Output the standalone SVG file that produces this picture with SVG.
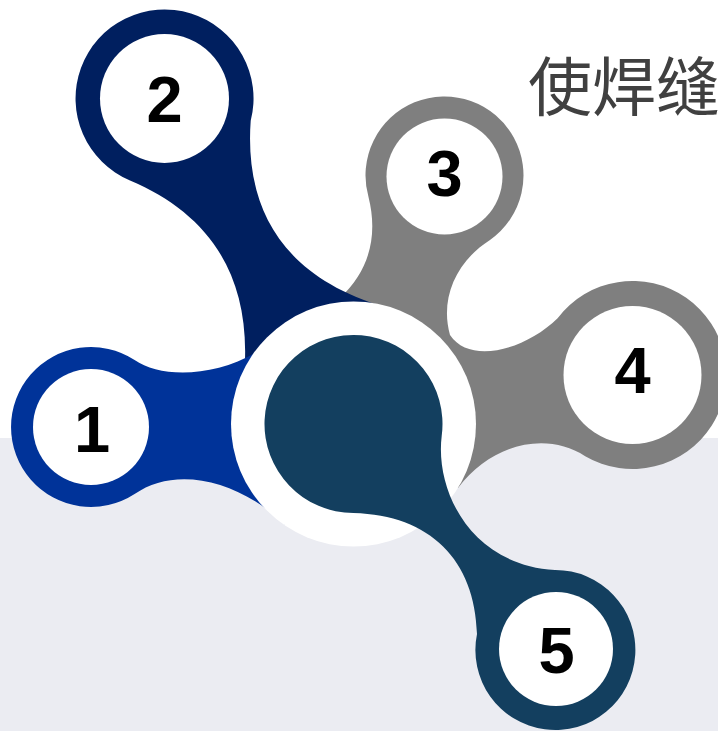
<svg xmlns="http://www.w3.org/2000/svg" width="718" height="731" viewBox="0 0 718 731">
<style>
.hole{fill:#ffffff}
.num{font-family:"Liberation Sans",Arial,sans-serif;font-weight:bold;font-size:65px;fill:#000000;text-anchor:middle}
.title{font-family:"Noto Sans CJK SC","Noto Sans",sans-serif;font-size:64px;fill:#404040}
</style>
<rect x="0" y="0" width="718" height="731" fill="#ffffff"/>
<rect x="0" y="438" width="718" height="293" fill="#ebecf2"/>
<g id="node34">
<path fill="#7f7f7f" d="M368.5,197 C378,235 370,270 340,298 L353,424 L458,488 C490,445 545,430 585.2,456.2 A94,94 0 1 0 557.6,318.2 C525,350 470,365 450,335 C440,300 455,262 490,240 A79,79 0 1 0 368.5,197 Z"/>
<g id="node3"><circle class="hole" cx="444.5" cy="176.5" r="58"/><text class="num" x="444.5" y="196">3</text></g>
<g id="node4"><circle class="hole" cx="632.5" cy="375" r="69"/><text class="num" x="632.5" y="393">4</text></g>
</g>
<g id="node2">
<path fill="#001f5f" d="M250.7,120.8 C245,200 275,275 385,307 L353,424 L245,360 C248,270 205,212 130,180.5 A89,89 0 1 1 250.7,120.8 Z"/>
<circle class="hole" cx="164.5" cy="98.5" r="64.5"/>
<text class="num" x="164.5" y="122">2</text>
</g>
<g id="node1">
<path fill="#003399" d="M134.6,359.9 C160,378 215,378 260,350 L353,424 L285,525 C240,480 175,465 134.6,494.1 A80,80 0 1 1 134.6,359.9 Z"/>
<circle class="hole" cx="91" cy="427" r="58"/>
<text class="num" x="92" y="451.5">1</text>
</g>
<g id="center">
<circle cx="353.5" cy="424" r="122.5" fill="#ffffff"/>
</g>
<g id="node5">
<path fill="#133f5f" d="M441.7,435.9 C435,490 470,565 555,570 A80,80 0 1 1 477,634 C475,560 430,515 353.5,513 A89,89 0 1 1 441.7,435.9 Z"/>
<circle class="hole" cx="556" cy="649" r="57"/>
<text class="num" x="556.5" y="672.5">5</text>
</g>
<g id="title">
<text class="title" x="528" y="110">使焊缝</text>
</g>
</svg>
